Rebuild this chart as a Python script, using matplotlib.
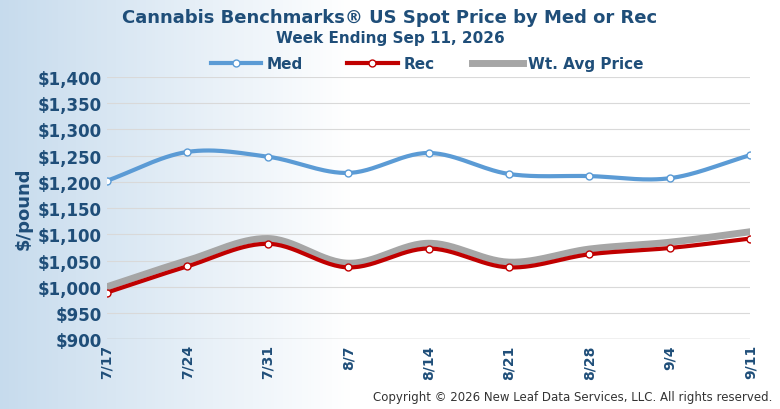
import matplotlib
matplotlib.use("Agg")
import matplotlib.pyplot as plt
import numpy as np

weeks = ["7/17", "7/24", "7/31", "8/7", "8/14", "8/21", "8/28", "9/4", "9/11"]
med = [1202, 1257, 1248, 1217, 1255, 1215, 1211, 1207, 1251]
rec = [989, 1039, 1082, 1037, 1073, 1037, 1062, 1074, 1092]
wavg = [1000, 1050, 1092, 1045, 1083, 1047, 1072, 1085, 1105]

navy = "#1f4e79"


def smooth(y, n=30):
    # Catmull-Rom curve through the points
    y = np.asarray(y, float)
    p = np.concatenate([[2 * y[0] - y[1]], y, [2 * y[-1] - y[-2]]])
    xs, ys = [], []
    for i in range(len(y) - 1):
        t = np.linspace(0, 1, n, endpoint=False)
        p0, p1, p2, p3 = p[i], p[i + 1], p[i + 2], p[i + 3]
        v = 0.5 * (2 * p1 + (-p0 + p2) * t + (2 * p0 - 5 * p1 + 4 * p2 - p3) * t**2
                   + (-p0 + 3 * p1 - 3 * p2 + p3) * t**3)
        xs.append(i + t)
        ys.append(v)
    xs.append([len(y) - 1])
    ys.append([y[-1]])
    return np.concatenate(xs), np.concatenate(ys)


fig = plt.figure(figsize=(7.8, 4.1), dpi=100)
bg = fig.add_axes([0, 0, 1, 1], zorder=-1)
grad = np.linspace(0, 1, 256)
grad = np.clip(grad / 0.45, 0, 1)
img = np.ones((1, 256, 3))
c0 = np.array([0.78, 0.86, 0.93])
for k in range(3):
    img[0, :, k] = c0[k] + (1 - c0[k]) * grad
bg.imshow(img, aspect="auto", extent=[0, 1, 0, 1])
bg.axis("off")

ax = fig.add_axes([0.137, 0.17, 0.825, 0.64])
ax.patch.set_alpha(0)
x = np.arange(len(weeks))

xs, ys = smooth(wavg)
ax.plot(xs, ys, color="#a6a6a6", lw=5, zorder=2)
xs, ys = smooth(rec)
ax.plot(xs, ys, color="#c00000", lw=3, zorder=3)
ax.plot(x, rec, "o", mfc="white", mec="#c00000", ms=5, mew=1, zorder=4)
xs, ys = smooth(med)
ax.plot(xs, ys, color="#5b9bd5", lw=3, zorder=3)
ax.plot(x, med, "o", mfc="white", mec="#5b9bd5", ms=5, mew=1, zorder=4)

ax.set_ylim(900, 1400)
ax.set_xlim(0, len(weeks) - 1)
ax.set_yticks(range(900, 1401, 50))
ax.set_yticklabels(["${:,}".format(v) for v in range(900, 1401, 50)],
                   fontsize=12, fontweight="bold", color=navy)
ax.set_xticks(x)
ax.set_xticklabels(weeks, rotation=90, fontsize=10, fontweight="bold", color=navy)
ax.grid(axis="y", color="#d9d9d9", lw=0.8)
ax.tick_params(length=0)
for s in ax.spines.values():
    s.set_visible(False)
ax.axhline(900, color="#bfbfbf", lw=1)
ax.set_ylabel("$/pound", fontsize=13, fontweight="bold", color=navy)

fig.text(0.5, 0.955, "Cannabis Benchmarks® US Spot Price by Med or Rec",
         ha="center", va="center", fontsize=13, fontweight="bold", color=navy)
fig.text(0.5, 0.905, "Week Ending Sep 11, 2026",
         ha="center", va="center", fontsize=11, fontweight="bold", color=navy)

# legend
ly = 0.843
items = [(0.27, "Med", "#5b9bd5", 3, True), (0.445, "Rec", "#c00000", 3, True),
         (0.605, "Wt. Avg Price", "#a6a6a6", 5, False)]
for lx, lab, col, lw, mk in items:
    fig.add_artist(plt.Line2D([lx, lx + 0.065], [ly, ly], color=col, lw=lw,
                              transform=fig.transFigure))
    if mk:
        fig.add_artist(plt.Line2D([lx + 0.0325], [ly], marker="o", mfc="white",
                                  mec=col, ms=5, transform=fig.transFigure))
    fig.text(lx + 0.072, ly, lab, va="center", fontsize=11, fontweight="bold", color=navy)

fig.text(0.99, 0.015, "Copyright © 2026 New Leaf Data Services, LLC. All rights reserved.",
         ha="right", va="bottom", fontsize=8.5, color="#333333")

fig.savefig("out.png", dpi=100)
